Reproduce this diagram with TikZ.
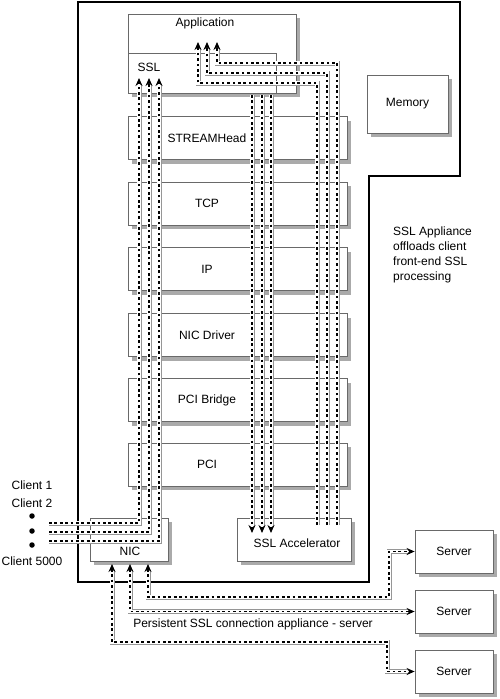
\documentclass[tikz,border=0pt]{standalone}
\usepackage{fontspec}
\setmainfont{Liberation Sans}
\usetikzlibrary{arrows.meta,shadows}
\definecolor{apBorder}{RGB}{105,105,105}
\definecolor{apShadow}{RGB}{170,170,170}
\definecolor{apCable}{RGB}{150,150,150}

\begin{document}
\begin{tikzpicture}[
  x=1pt, y=-1pt,
  txt/.style={font=\fontsize{12}{15}\selectfont, inner sep=0pt},
  box/.style={
    draw=apBorder, line width=0.8pt, fill=white, inner sep=0pt,
    drop shadow={shadow xshift=4pt, shadow yshift=-4pt, fill=apShadow, opacity=1}
  },
  layer/.style={box, minimum width=219pt, minimum height=43pt},
  sbox/.style={box, minimum width=78pt, minimum height=43pt, txt},
  dot/.style={circle, fill=black, inner sep=0pt, minimum size=5.5pt},
  encl/.style={draw=black, line width=1.6pt},
  cablearr/.style={
    draw=apCable, line width=5pt, shorten >=6pt,
    postaction={draw=white, line width=3.2pt, shorten >=6pt},
    postaction={draw=black, line width=1.8pt, shorten >=0pt,
      dash pattern=on 2.7pt off 2.7pt, -{Stealth[length=8pt,width=7pt]}}
  },
  cablebi/.style={
    draw=apCable, line width=5pt, shorten >=6pt, shorten <=6pt,
    postaction={draw=white, line width=3.2pt, shorten >=6pt, shorten <=6pt},
    postaction={draw=black, line width=1.8pt, shorten >=0pt, shorten <=0pt,
      dash pattern=on 2.7pt off 2.7pt,
      {Stealth[length=8pt,width=7pt]}-{Stealth[length=8pt,width=7pt]}}
  },
]
\useasboundingbox (0,0) rectangle (500,699);

%% Appliance enclosure
\draw[encl] (78,2) -- (460,2) -- (460,176) -- (369,176) -- (369,582) -- (78,582) -- cycle;

%% Application / SSL
\node[box, minimum width=168pt, minimum height=79pt] (app) at (212,53.5) {};
\node[draw=apBorder, line width=0.8pt, inner sep=0pt,
      minimum width=148pt, minimum height=40pt] (ssl) at (202,73) {};
\node[txt] (apptxt) at (205,23) {Application};
\node[txt] (ssltxt) at (149,67) {SSL};

%% Memory
\node[box, txt, minimum width=81pt, minimum height=58pt] (mem) at (407.5,104) {Memory};

%% Stack layers
\node[layer] (sth) at (237.5,138)   {};
\node[layer] (tcp) at (237.5,203.5) {};
\node[layer] (ip)  at (237.5,269)   {};
\node[layer] (drv) at (237.5,335)   {};
\node[layer] (brg) at (237.5,400)   {};
\node[layer] (pci) at (237.5,464.5) {};
\node[txt] (sthtxt) at (207,138)   {STREAMHead};
\node[txt] (tcptxt) at (207,203.5) {TCP};
\node[txt] (iptxt)  at (207,269)   {IP};
\node[txt] (drvtxt) at (207,335)   {NIC Driver};
\node[txt] (brgtxt) at (207,400)   {PCI Bridge};
\node[txt] (pcitxt) at (207,464.5) {PCI};

%% NIC and accelerator
\node[sbox] (nic) at (129,539.5) {};
\node[txt] (nictxt) at (130,551) {NIC};
\node[sbox, minimum width=114pt] (acc) at (294,539.5) {};
\node[txt] (acctxt) at (297,543) {SSL Accelerator};

%% Servers
\node[sbox] (srv1) at (454,551.5) {Server};
\node[sbox] (srv2) at (454,611.5) {Server};
\node[sbox] (srv3) at (454,671.5) {Server};

%% Clients
\node[txt] (cli1) at (32,485) {Client 1};
\node[txt] (cli2) at (32,503) {Client 2};
\node[dot] (d1) at (32,516) {};
\node[dot] (d2) at (32,531) {};
\node[dot] (d3) at (32,545) {};
\node[txt] (cli3) at (32,561) {Client 5000};

%% Notes
\node[txt, anchor=north west, align=left] (note) at (393,227)
  {SSL Appliance\\offloads client\\front-end SSL\\processing};
\node[txt] (persist) at (253,624) {Persistent SSL connection appliance - server};

%% ── Cable ends ───────────────────────────────────────────────────────────
\coordinate (cl1) at (49,523);  \coordinate (sin1) at (139,78);
\coordinate (cl2) at (49,532);  \coordinate (sin2) at (149,78);
\coordinate (cl3) at (49,541);  \coordinate (sin3) at (159,78);

\coordinate (so1) at (252,95);  \coordinate (ai1) at (252,533);
\coordinate (so2) at (262,95);  \coordinate (ai2) at (262,533);
\coordinate (so3) at (271,95);  \coordinate (ai3) at (271,533);

\coordinate (xo1) at (317,525); \coordinate (xk1) at (198,83); \coordinate (ap1) at (198,42);
\coordinate (xo2) at (327,525); \coordinate (xk2) at (207,73); \coordinate (ap2) at (207,42);
\coordinate (xo3) at (337,525); \coordinate (xk3) at (217,63); \coordinate (ap3) at (217,42);

\coordinate (nt1) at (148,564); \coordinate (bk1) at (389,597);
\coordinate (nt2) at (130,564);
\coordinate (nt3) at (112,564); \coordinate (bk3) at (387,642);

%% ── Cables ───────────────────────────────────────────────────────────────

% Clients -> NIC -> SSL
\foreach \i in {1,2,3}{
  \draw[cablearr] (cl\i) -| (sin\i);
}

% SSL -> SSL Accelerator
\foreach \i in {1,2,3}{
  \draw[cablearr] (so\i) -- (ai\i);
}

% SSL Accelerator -> Application
\foreach \i in {1,2,3}{
  \draw[cablearr] (xo\i) |- (xk\i) -- (ap\i);
}

% NIC <-> Servers
\draw[cablebi] (nt1) |- (bk1) |- (srv1.west);
\draw[cablebi] (nt2) |- (srv2.west);
\draw[cablebi] (nt3) |- (bk3) |- (srv3.west);

\end{tikzpicture}
\end{document}
